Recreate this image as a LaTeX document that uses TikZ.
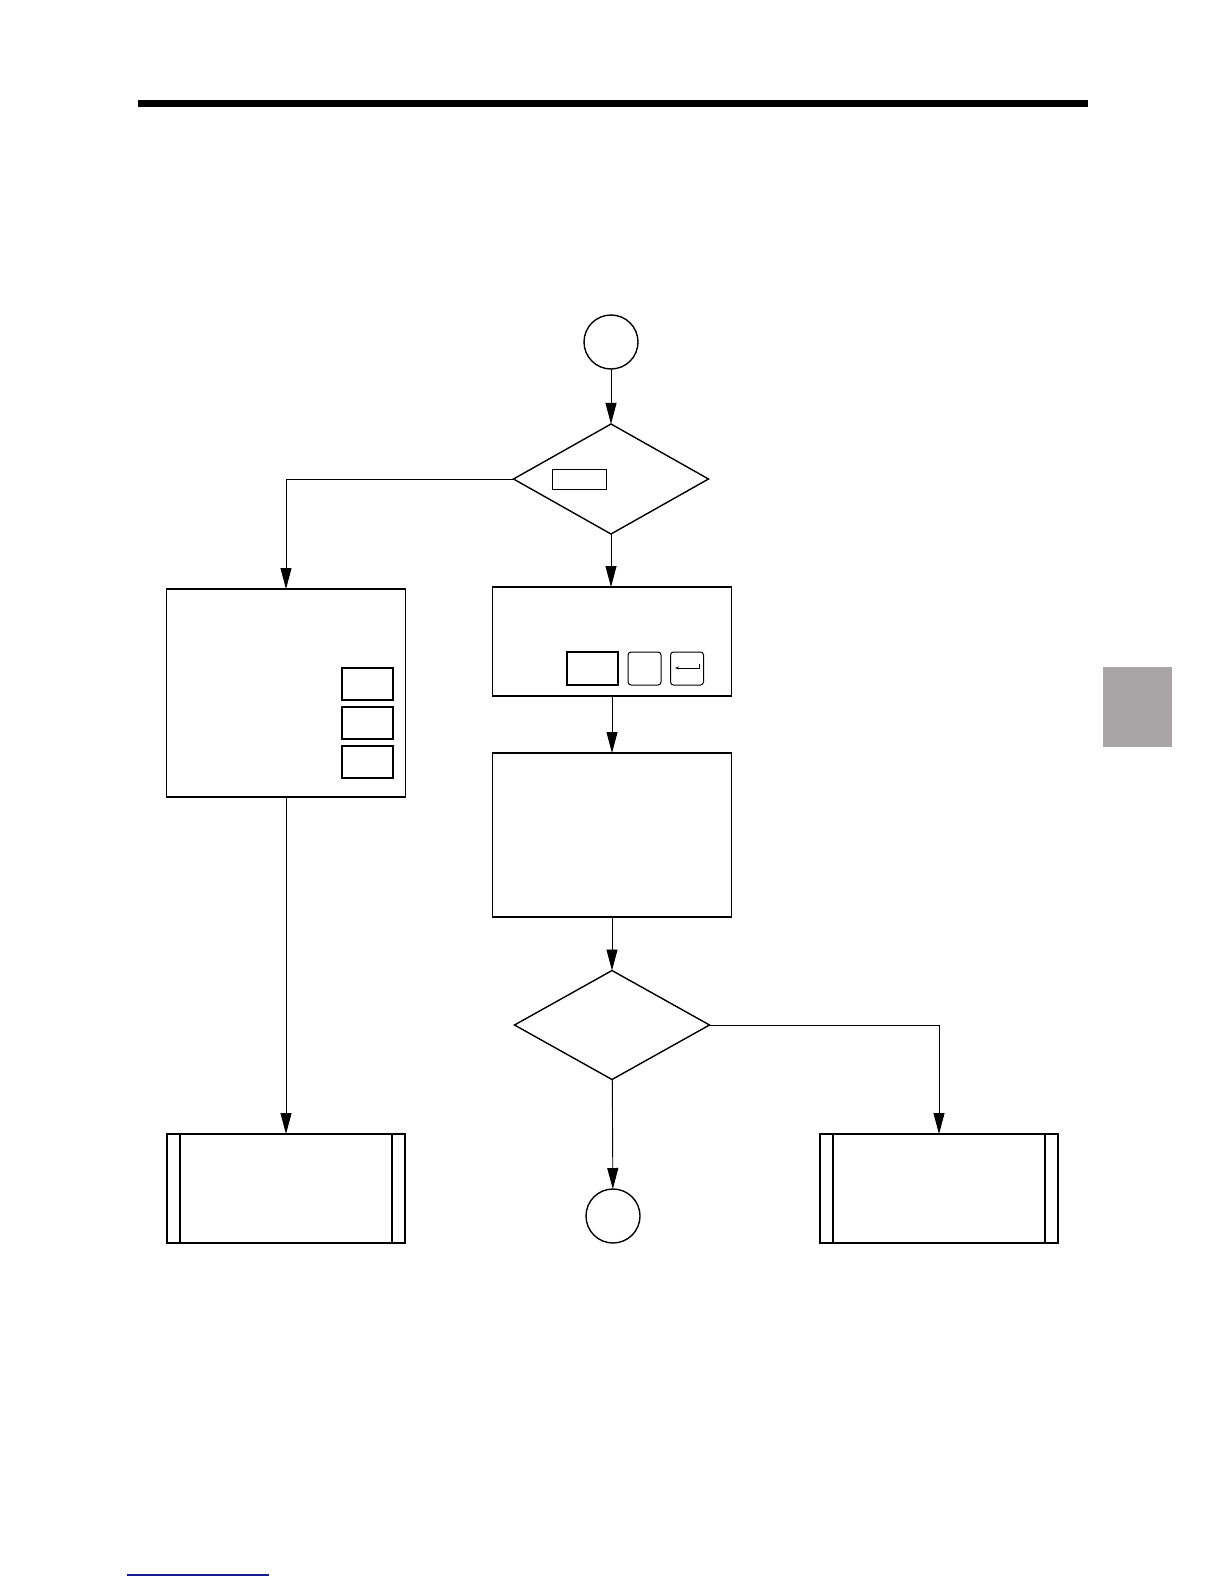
\documentclass[tikz,border=0pt]{standalone}
\usepackage{tikz}
\usetikzlibrary{positioning,arrows.meta,shapes.geometric}
\definecolor{tabgray}{HTML}{A7A5A5}
\definecolor{linkblue}{HTML}{1A1A8C}

\begin{document}
\begin{tikzpicture}[
  x=1pt, y=-1pt,
  every node/.style={inner sep=0pt, outer sep=0pt},
  termnode/.style={draw, circle, line width=1.4pt, minimum size=54pt},
  decnode/.style={draw, diamond, line width=1.4pt, minimum width=195pt, minimum height=110pt},
  procbox/.style={draw, rectangle, line width=1.5pt, minimum width=239pt},
  keybox/.style={draw, rectangle, line width=1.5pt, minimum width=51pt, minimum height=32pt},
  softkey/.style={draw, rectangle, rounded corners=3pt, line width=1pt, minimum width=33pt, minimum height=33pt},
  conn/.style={line width=0.9pt, -{Triangle[length=21pt, width=11pt]}}
]
  \useasboundingbox (0,0) rectangle (1224,1584);

  % page furniture
  \draw[line width=7pt] (138,104) -- (1088,104);
  \fill[tabgray] (1103,667) rectangle (1172,747);
  \draw[linkblue, line width=1.2pt] (127,1575) -- (269,1575);

  % main column
  \node[termnode] (start) at (611,342) {};
  \node[decnode]  (askkey) at (611,479) {};
  \node[draw, line width=0.9pt, minimum width=54pt, minimum height=20pt] (keyname) at (579,479) {};
  \node[procbox, minimum height=109pt] (entry) at (612,641.5) {};
  \node[keybox, minimum height=33pt] (valfield) at (592.5,668.5) {};
  \node[softkey] (keyone) at (644.5,668.5) {};
  \node[softkey] (keyret) at (687,668.5) {};
  \draw[line width=0.8pt, -{Stealth[length=4pt, width=3pt]}] (699,664) -- (699,668) -- (675,668);
  \node[procbox, minimum height=164pt] (store) at (612,835) {};
  \node[decnode, minimum height=109pt] (askdone) at (612,1025) {};
  \node[termnode] (finish) at (613,1216) {};

  % left column
  \node[procbox, minimum height=208pt] (choose) at (286,693) {};
  \node[keybox] (optone)   at (367.5,684) {};
  \node[keybox] (opttwo)   at (367.5,723) {};
  \node[keybox] (optthree) at (367.5,762) {};
  \node[procbox, minimum width=238pt, minimum height=109pt] (subleft) at (286,1188.5) {};
  \draw[line width=1.5pt] ([xshift=13pt]subleft.north west) -- ([xshift=13pt]subleft.south west);
  \draw[line width=1.5pt] ([xshift=-13pt]subleft.north east) -- ([xshift=-13pt]subleft.south east);

  % right column
  \node[procbox, minimum width=238pt, minimum height=109pt] (subright) at (939,1188.5) {};
  \draw[line width=1.5pt] ([xshift=13pt]subright.north west) -- ([xshift=13pt]subright.south west);
  \draw[line width=1.5pt] ([xshift=-13pt]subright.north east) -- ([xshift=-13pt]subright.south east);

  % connectors
  \draw[conn] (start) -- (askkey);
  \draw[conn] (askkey.west) -| (choose.north);
  \draw[conn] (askkey.south) -- (askkey.south |- entry.north);
  \draw[conn] (entry) -- (store);
  \draw[conn] (store) -- (askdone);
  \draw[conn] (askdone) -- (finish);
  \draw[conn] (askdone.east) -| (subright.north);
  \draw[conn] (choose) -- (subleft);
\end{tikzpicture}
\end{document}
